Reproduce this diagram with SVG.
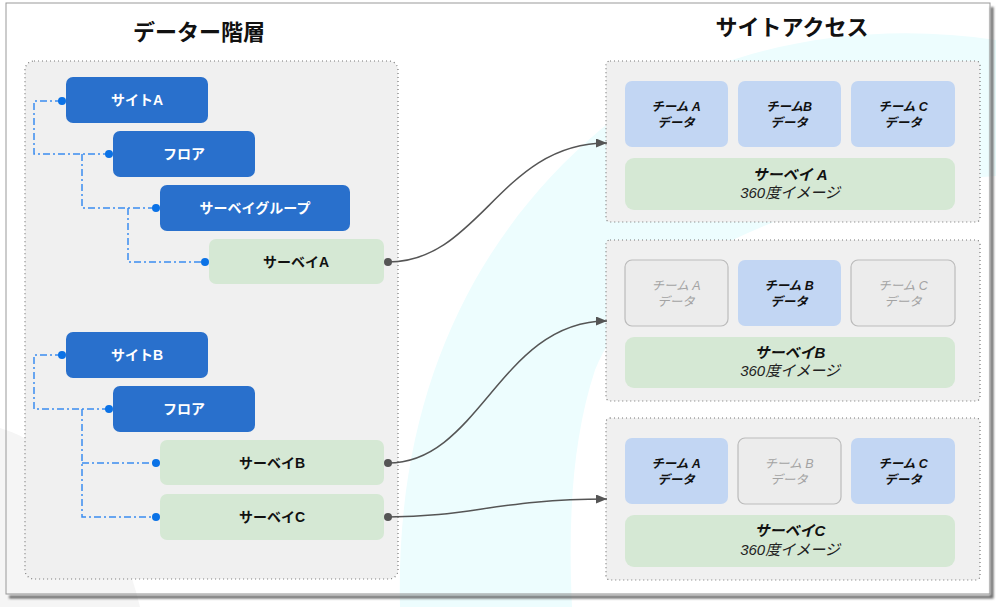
<svg xmlns="http://www.w3.org/2000/svg" width="996" height="607" viewBox="0 0 996 607">
<defs>
<style>
text{font-family:"Liberation Sans","Noto Sans CJK JP",sans-serif;text-anchor:middle}
.title{font-size:22px;font-weight:bold;fill:#111}
.dark rect{fill:#2970cc}
.dark text{fill:#fff;font-size:14px;font-weight:bold}
.green rect{fill:#d5e8d4}
.green text{fill:#111;font-size:14px;font-weight:bold}
.panel{fill:#f0f0f0;stroke:#777;stroke-width:1.2;stroke-dasharray:1 3}
.team rect{fill:#c2d6f3}
.team text{fill:#111;font-size:12.5px;font-weight:bold;font-style:italic}
.off rect{fill:#ececec;stroke:#bbb;stroke-width:1.2}
.off text{fill:#a3a3a3;font-size:12.5px;font-style:italic}
.sv rect{fill:#d5e8d4}
.sv .t1{fill:#111;font-size:15px;font-weight:bold;font-style:italic}
.sv .t2{fill:#222;font-size:15px;font-style:italic}
.tree{fill:none;stroke:#3a8cf0;stroke-width:1.5;stroke-dasharray:7 3 2 3}
.bd{fill:#0b72e6}
.link{fill:none;stroke:#555;stroke-width:1.5}
.ld{fill:#555}
</style>
<marker id="arr" markerUnits="userSpaceOnUse" markerWidth="11" markerHeight="9" refX="11" refY="4.5" orient="auto">
<path d="M0,0 L11,4.5 L0,9 z" fill="#555"/>
</marker>
<filter id="sh" x="-5%" y="-5%" width="110%" height="110%">
<feGaussianBlur stdDeviation="1.2"/>
</filter>
</defs>
<rect width="996" height="607" fill="#fff"/>
<g id="background">
<path d="M0 428 C60 445 120 520 140 607 L0 607 Z" fill="#f5f5f5"/>
<path d="M400 607 C395 400 470 240 600 130 C700 50 850 18 996 40 L996 176 C800 190 640 260 595 370 C572 440 568 520 572 607 Z" fill="#edfdfe"/>
</g>
<g id="card">
<path d="M992 7 V597 H9" fill="none" stroke="#666" stroke-width="3" filter="url(#sh)"/>
<rect x="6" y="3" width="984" height="591" fill="none" stroke="#999" stroke-width="1"/>
</g>
<text class="title" x="199" y="40">データー階層</text>
<text class="title" x="792" y="35">サイトアクセス</text>
<rect id="left-panel" class="panel" x="25" y="61" width="373" height="518" rx="9"/>
<g id="tree-connectors">
<path class="tree" d="M62 101 H34 V154 H108"/>
<path class="tree" d="M82 154 V208 H155"/>
<path class="tree" d="M128 208 V262 H204"/>
<path class="tree" d="M62 355 H34 V409 H108"/>
<path class="tree" d="M82 409 V517 H155 M82 463 H155"/>
</g>
<g id="node-siteA" class="dark"><rect x="66" y="77" width="142" height="46" rx="7"/><text x="137" y="105">サイトA</text></g>
<g id="node-floorA" class="dark"><rect x="113" y="131" width="142" height="46" rx="7"/><text x="184" y="159">フロア</text></g>
<g id="node-group" class="dark"><rect x="160" y="185" width="190" height="46" rx="7"/><text x="255" y="213">サーベイグループ</text></g>
<g id="node-surveyA" class="green"><rect x="209" y="239" width="175" height="45" rx="7"/><text x="296" y="267">サーベイA</text></g>
<g id="node-siteB" class="dark"><rect x="66" y="332" width="142" height="46" rx="7"/><text x="137" y="360">サイトB</text></g>
<g id="node-floorB" class="dark"><rect x="113" y="386" width="142" height="46" rx="7"/><text x="184" y="414">フロア</text></g>
<g id="node-surveyB" class="green"><rect x="160" y="440" width="224" height="45" rx="7"/><text x="272" y="468">サーベイB</text></g>
<g id="node-surveyC" class="green"><rect x="160" y="494" width="224" height="46" rx="7"/><text x="272" y="522">サーベイC</text></g>
<g id="tree-dots">
<circle class="bd" cx="62" cy="101" r="4"/><circle class="bd" cx="109" cy="154" r="4"/><circle class="bd" cx="156" cy="208" r="4"/><circle class="bd" cx="205" cy="262" r="4"/>
<circle class="bd" cx="62" cy="355" r="4"/><circle class="bd" cx="109" cy="409" r="4"/><circle class="bd" cx="156" cy="463" r="4"/><circle class="bd" cx="156" cy="517" r="4"/>
</g>
<g id="access-A">
<rect class="panel" x="606" y="61" width="374" height="161" rx="4"/>
<g class="team"><rect x="625" y="81" width="103" height="66" rx="7"/><text x="676" y="111">チーム A</text><text x="676" y="127">データ</text></g>
<g class="team"><rect x="738" y="81" width="103" height="66" rx="7"/><text x="789" y="111">チームB</text><text x="789" y="127">データ</text></g>
<g class="team"><rect x="851" y="81" width="104" height="66" rx="7"/><text x="903" y="111">チーム C</text><text x="903" y="127">データ</text></g>
<g class="sv"><rect x="625" y="158" width="330" height="52" rx="9"/><text class="t1" x="790" y="180">サーベイ A</text><text class="t2" x="790" y="198">360度イメージ</text></g>
</g>
<g id="access-B">
<rect class="panel" x="606" y="240" width="374" height="161" rx="4"/>
<g class="off"><rect x="625" y="260" width="103" height="66" rx="7"/><text x="676" y="290">チーム A</text><text x="676" y="306">データ</text></g>
<g class="team"><rect x="738" y="260" width="103" height="66" rx="7"/><text x="789" y="290">チーム B</text><text x="789" y="306">データ</text></g>
<g class="off"><rect x="851" y="260" width="104" height="66" rx="7"/><text x="903" y="290">チーム C</text><text x="903" y="306">データ</text></g>
<g class="sv"><rect x="625" y="337" width="330" height="51" rx="9"/><text class="t1" x="790" y="358">サーベイB</text><text class="t2" x="790" y="376">360度イメージ</text></g>
</g>
<g id="access-C">
<rect class="panel" x="606" y="418" width="374" height="162" rx="4"/>
<g class="team"><rect x="625" y="438" width="103" height="66" rx="7"/><text x="676" y="468">チーム A</text><text x="676" y="484">データ</text></g>
<g class="off"><rect x="738" y="438" width="103" height="66" rx="7"/><text x="789" y="468">チーム B</text><text x="789" y="484">データ</text></g>
<g class="team"><rect x="851" y="438" width="104" height="66" rx="7"/><text x="903" y="468">チーム C</text><text x="903" y="484">データ</text></g>
<g class="sv"><rect x="625" y="515" width="330" height="52" rx="9"/><text class="t1" x="790" y="536">サーベイC</text><text class="t2" x="790" y="555">360度イメージ</text></g>
</g>
<g id="connectors">
<path class="link" marker-end="url(#arr)" d="M388 262 C480 262 500 143 607 143"/>
<path class="link" marker-end="url(#arr)" d="M388 463 C480 463 500 321 607 321"/>
<path class="link" marker-end="url(#arr)" d="M388 517 C470 517 500 499 607 499"/>
<circle class="ld" cx="388" cy="262" r="4"/><circle class="ld" cx="388" cy="463" r="4"/><circle class="ld" cx="388" cy="517" r="4"/>
</g>
</svg>
